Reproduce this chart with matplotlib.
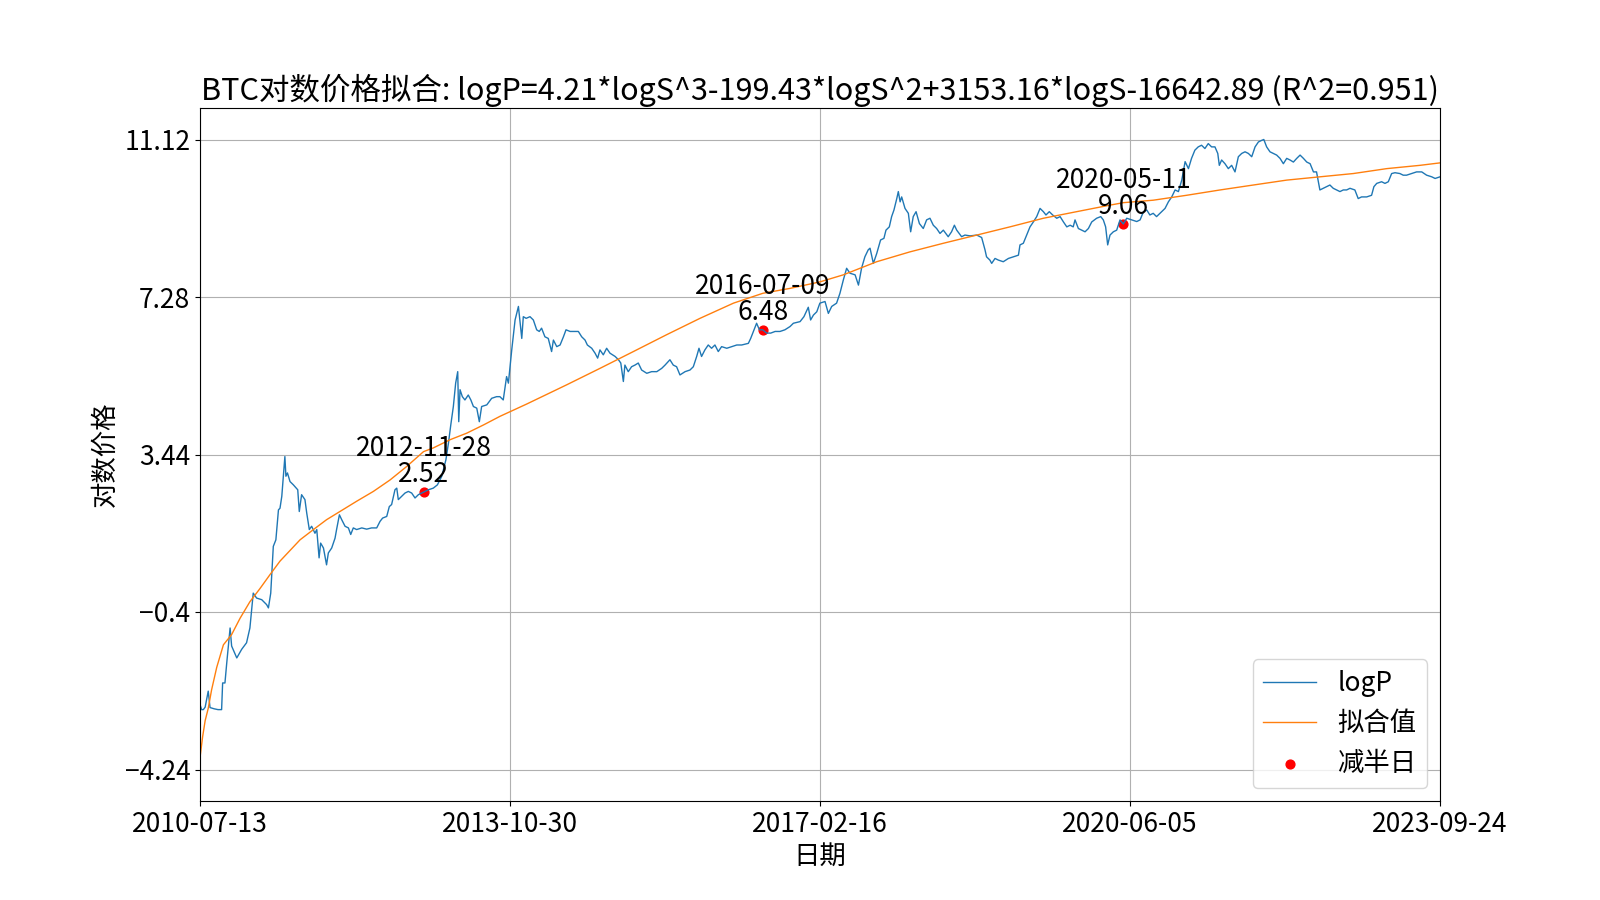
import numpy as np
import pandas as pd
import matplotlib
matplotlib.use("Agg")
import matplotlib.pyplot as plt

plt.rcParams['font.family'] = ['Noto Sans CJK SC', 'DejaVu Sans']
plt.rcParams['axes.unicode_minus'] = True

# 数据起点, 其余日期以天数偏移记录
start_date = "2010-07-13"
end_date = "2023-09-24"

# 对数价格 logP
logp_days = [0, 6, 13, 20, 32, 39, 55, 70, 84, 88, 97, 104, 117, 123, 143, 162, 181, 194, 207, 220,
             240, 259, 266, 275, 285, 295, 305, 311, 318, 330, 334, 340, 350, 363, 380, 386, 395, 408,
             415, 425, 434, 447, 454, 463, 469, 480, 492, 499, 512, 525, 531, 542, 551, 564, 577, 586,
             596, 609, 629, 648, 667, 687, 700, 710, 726, 736, 745, 758, 765, 771, 784, 797, 810, 823,
             836, 849, 869, 888, 907, 923, 940, 956, 966, 975, 985, 994, 1002, 1006, 1011, 1020, 1030,
             1043, 1053, 1063, 1076, 1086, 1095, 1115, 1134, 1153,
             1166, 1179, 1192, 1199, 1212, 1225, 1238, 1247, 1251, 1257, 1268, 1283, 1296, 1309, 1319,
             1328, 1341, 1354, 1367, 1374, 1387, 1400, 1413, 1423, 1439, 1458, 1471, 1484, 1497, 1506,
             1523, 1536, 1546, 1555, 1568, 1581, 1594, 1614, 1627, 1636, 1646, 1652, 1665, 1678, 1691,
             1704, 1717, 1737, 1756, 1776, 1795, 1808, 1827, 1840, 1853, 1866, 1886, 1905, 1918, 1931,
             1940, 1950, 1963, 1976, 1989, 2002, 2015, 2028, 2048, 2067, 2087, 2106, 2132, 2141, 2154,
             2164, 2175, 2188, 2203, 2219, 2236, 2255, 2274, 2294, 2307, 2333, 2348, 2365, 2374, 2385,
             2398,
             2410, 2430, 2443, 2456, 2475, 2488, 2501, 2514, 2527, 2547, 2560, 2572, 2585, 2598, 2605,
             2618, 2631, 2646, 2659, 2667, 2680, 2689, 2698, 2709, 2715, 2722, 2728, 2741, 2754, 2763,
             2773, 2784, 2797, 2812, 2825, 2838, 2851, 2864, 2877, 2890, 2909, 2922, 2933, 2942, 2961,
             2974, 2994, 3020, 3039, 3052, 3058, 3071, 3078, 3091, 3104, 3123, 3143, 3162, 3182, 3188,
             3201, 3214, 3227, 3240, 3253, 3266, 3279, 3289, 3302, 3315, 3331, 3344, 3357, 3370, 3383,
             3395, 3402, 3415, 3428, 3441, 3454, 3467, 3486, 3502, 3512, 3521, 3529, 3538, 3551, 3564,
             3577,
             3590, 3603, 3622, 3642, 3655, 3668, 3681, 3693, 3706, 3719, 3732, 3752, 3765, 3778, 3791,
             3804, 3817, 3830, 3843, 3855, 3868, 3881, 3894, 3907, 3920, 3933, 3946, 3957, 3963, 3972,
             3985, 3998, 4011, 4024, 4037, 4050, 4063, 4076, 4089, 4102, 4115, 4128, 4136, 4147, 4160,
             4173, 4186, 4199, 4212, 4225, 4238, 4251, 4264, 4277, 4290, 4303, 4316, 4329, 4341, 4354,
             4367, 4380, 4393, 4406, 4419, 4432, 4445, 4458, 4471, 4490, 4503, 4516, 4536, 4555, 4564,
             4575, 4594, 4607, 4620, 4633, 4646, 4665, 4678, 4691, 4711, 4730, 4750, 4769, 4789, 4802,
             4821]
logp_vals = [-2.65, -2.78, -2.78, -2.72, -2.33, -2.73, -2.76, -2.78, -2.78, -2.13, -2.13, -1.64, -0.79,
             -1.23, -1.52, -1.31, -1.15, -0.79, 0.06, -0.06, -0.10, -0.22, -0.30, 0.06, 1.20, 1.36,
             2.09, 2.13, 2.42, 3.39, 2.91, 2.99, 2.78, 2.70, 2.58, 2.05, 2.46, 2.34, 2.01, 1.61, 1.69,
             1.52, 1.61, 0.92, 1.28, 1.16, 0.75, 1.04, 1.16, 1.40, 1.61, 1.97, 1.85, 1.69, 1.65, 1.49,
             1.65, 1.61, 1.65, 1.62, 1.65, 1.65, 1.81, 1.89, 1.93, 2.17, 2.22, 2.58, 2.62, 2.34, 2.42,
             2.50, 2.54, 2.50, 2.38, 2.46, 2.52, 2.58, 2.62, 2.70, 2.91, 3.31, 3.72, 4.16, 4.61, 5.18,
             5.46, 4.24, 5.02, 4.85, 4.77, 4.89, 4.77, 4.61, 4.57, 4.24, 4.61, 4.65, 4.81, 4.85,
             4.85, 4.77, 5.34, 5.18, 5.99, 6.72, 7.05, 6.52, 6.27, 6.80, 6.76, 6.80, 6.72, 6.48, 6.44,
             6.52, 6.31, 6.27, 5.95, 6.23, 6.07, 6.11, 6.31, 6.48, 6.44, 6.44, 6.44, 6.31, 6.23, 6.11,
             6.03, 5.91, 5.79, 5.99, 5.87, 6.03, 5.91, 5.83, 5.75, 5.67, 5.22, 5.62, 5.46, 5.58, 5.62,
             5.67, 5.50, 5.42, 5.46, 5.46, 5.54, 5.62, 5.75, 5.62, 5.58, 5.38, 5.46, 5.50, 5.58, 5.83,
             6.03, 5.83, 5.99, 6.11, 6.03, 6.11, 5.95, 6.07, 6.03, 6.07, 6.11, 6.11, 6.15, 6.27, 6.48,
             6.64, 6.48, 6.48, 6.40, 6.40, 6.44, 6.44, 6.48, 6.56, 6.64, 6.68, 6.80, 7.03, 6.72, 6.84,
             6.92,
             7.13, 7.17, 6.88, 7.05, 7.13, 7.37, 7.69, 7.98, 7.86, 7.82, 7.57, 7.98, 8.26, 8.43, 8.47,
             8.10, 8.34, 8.67, 8.71, 8.91, 8.99, 9.24, 9.40, 9.68, 9.85, 9.60, 9.72, 9.44, 9.32, 8.87,
             9.24, 9.36, 9.07, 8.95, 9.16, 9.20, 9.03, 8.95, 8.83, 8.91, 8.75, 8.87, 9.03, 8.91, 8.75,
             8.79, 8.77, 8.79, 8.73, 8.43, 8.26, 8.18, 8.10, 8.22, 8.18, 8.14, 8.22, 8.26, 8.30, 8.55,
             8.59, 8.79, 8.99, 9.11, 9.24, 9.44, 9.36, 9.28, 9.36, 9.28, 9.20, 9.24, 9.11, 8.99, 9.03,
             8.99, 9.16, 8.95, 8.91, 8.87, 8.95, 9.11, 9.20, 9.24, 9.16, 8.99, 8.55, 8.79, 8.87, 8.91,
             9.16,
             9.06, 9.20, 9.16, 9.12, 9.16, 9.36, 9.40, 9.28, 9.32, 9.24, 9.32, 9.44, 9.60, 9.72, 9.89,
             9.85, 10.13, 10.58, 10.41, 10.66, 10.86, 10.94, 10.98, 10.90, 11.02, 10.94, 10.94, 10.78,
             10.49, 10.62, 10.53, 10.41, 10.49, 10.33, 10.70, 10.78, 10.82, 10.78, 10.70, 10.94, 11.06,
             11.10, 11.12, 10.94, 10.82, 10.78, 10.74, 10.66, 10.53, 10.66, 10.62, 10.57, 10.66, 10.74,
             10.66, 10.57, 10.53, 10.33, 10.33, 9.89, 9.93, 9.97, 10.01, 9.93, 9.89, 9.85, 9.89, 9.89,
             9.93, 9.89, 9.68, 9.72, 9.72, 9.76, 9.97, 10.05, 10.09, 10.05, 10.09, 10.29, 10.31, 10.29,
             10.25, 10.25, 10.29, 10.33, 10.33, 10.25, 10.21, 10.17, 10.21]

# 拟合值
fit_days = [0, 10, 20, 32, 45, 65, 91, 123, 156, 194, 233, 272, 311, 350, 389, 441, 492, 544, 609,
            674, 739, 804, 869, 907, 972, 1037, 1102, 1166, 1270, 1426, 1555, 1685, 1814, 1944, 2074,
            2188, 2294, 2411, 2501, 2631, 2760, 2890, 3020, 3149, 3279, 3408, 3538, 3590, 3706, 3836,
            3966, 4095, 4225, 4354, 4484, 4614, 4743, 4821]
fit_vals = [-3.95, -3.45, -3.05, -2.75, -2.30, -1.75, -1.20, -0.95, -0.55, -0.15, 0.17, 0.51, 0.84,
            1.10, 1.36, 1.61, 1.85, 2.05, 2.30, 2.54, 2.82, 3.15, 3.51, 3.60, 3.80, 3.96, 4.16, 4.37,
            4.67, 5.14, 5.54, 5.95, 6.36, 6.76, 7.13, 7.37, 7.49, 7.65, 7.82, 8.14, 8.38, 8.59, 8.79,
            8.99, 9.20, 9.36, 9.52, 9.58, 9.64, 9.76, 9.89, 10.01, 10.13, 10.21, 10.29, 10.41, 10.49,
            10.55]

# 减半日
halving_dates = ["2012-11-28", "2016-07-09", "2020-05-11"]
halving_vals = [2.52, 6.48, 9.06]

ytick_vals = [-4.24, -0.4, 3.44, 7.28, 11.12]

title = "BTC对数价格拟合: logP=4.21*logS^3-199.43*logS^2+3153.16*logS-16642.89 (R^2=0.951)"

t0 = pd.Timestamp(start_date)
t1 = pd.Timestamp(end_date)
logp_dates = t0 + pd.to_timedelta(logp_days, unit="D")
fit_dates = t0 + pd.to_timedelta(fit_days, unit="D")
h_dates = pd.to_datetime(halving_dates)

fig, ax = plt.subplots(figsize=(16, 9), dpi=100)
ax.plot(logp_dates, logp_vals, color="#1f77b4", lw=1.0, label="logP")
ax.plot(fit_dates, fit_vals, color="#ff7f0e", lw=1.0, label="拟合值")
ax.scatter(h_dates, halving_vals, color="red", s=40, label="减半日")

for d, s, v in zip(h_dates, halving_dates, halving_vals):
    ax.annotate(f"{s}\n{v:.2f}", (d, v), xytext=(0, 3), textcoords="offset points",
                ha="center", va="bottom", fontsize=19, linespacing=0.95)

ax.set_xlim(t0, t1)
ax.set_ylim(ytick_vals[0] - 0.768, ytick_vals[-1] + 0.768)
xt = pd.date_range(t0, t1, periods=5)
ax.set_xticks(xt)
ax.set_xticklabels([d.strftime("%Y-%m-%d") for d in xt], fontsize=19)
ax.set_yticks(ytick_vals)
ax.set_yticklabels([f"{v:g}".replace("-", "\u2212") for v in ytick_vals], fontsize=19)
ax.grid(True)

ax.set_title(title, fontsize=22)
ax.set_xlabel("日期", fontsize=19)
ax.set_ylabel("对数价格", fontsize=19)
ax.legend(loc="lower right", fontsize=19)

fig.savefig("out.png", dpi=100)
